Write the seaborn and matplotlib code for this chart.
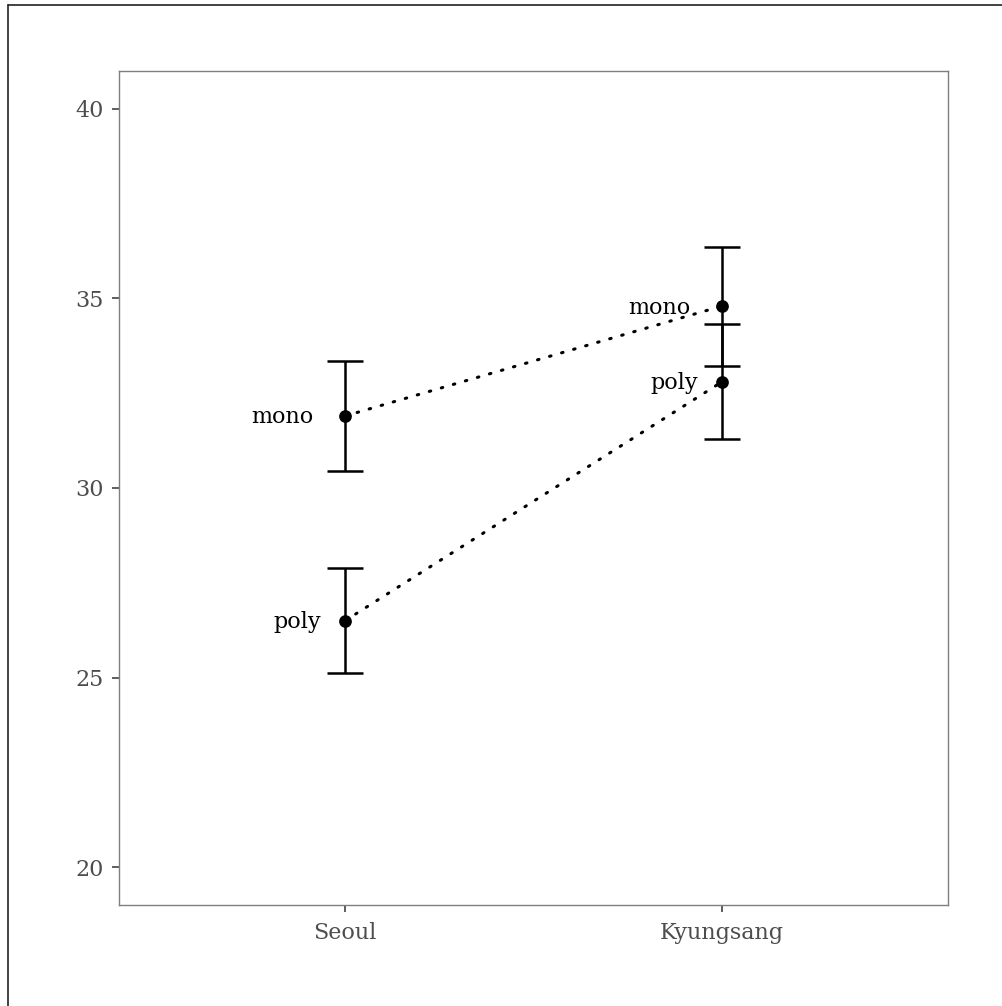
import numpy as np
import pandas as pd
import seaborn as sns
import matplotlib.pyplot as plt
import matplotlib.transforms as mtransforms
from matplotlib.lines import Line2D

# values
regions = ['Seoul', 'Kyungsang']
groups = ['mono', 'poly']
mono_mean = [31.9, 34.8]
mono_err = [1.45, 1.57]
poly_mean = [26.5, 32.8]
poly_err = [1.38, 1.52]
y_ticks = [20, 25, 30, 35, 40]

df = pd.DataFrame({
    'region': regions * 2,
    'group': ['mono'] * 2 + ['poly'] * 2,
    'score': mono_mean + poly_mean,
    'err': mono_err + poly_err,
})

sns.set_theme(style='white')
plt.rcParams['font.family'] = ['DejaVu Serif']

fig = plt.figure(figsize=(10.02, 10.06), dpi=100)
ax = fig.add_axes([119 / 1002, 1 - 905 / 1006, 829 / 1002, 834 / 1006])

sns.pointplot(data=df, x='region', y='score', hue='group', order=regions,
              hue_order=groups, palette=['black', 'black'], errorbar=None,
              markers='o', linestyles=':', dodge=False, legend=False,
              markersize=7.5, linewidth=2.2, ax=ax)
for ln in ax.lines:
    ln.set_dashes((0.5, 3.6))
    ln.set_dash_capstyle('round')

# error bars
for g in groups:
    sub = df[df['group'] == g]
    xpos = [regions.index(r) for r in sub['region']]
    ax.errorbar(xpos, sub['score'], yerr=sub['err'], fmt='none',
                ecolor='black', elinewidth=1.8, capsize=13.3, capthick=1.8,
                zorder=1)

# group labels (right of text at half its width from the point)
texts = []
for _, row in df.iterrows():
    t = ax.text(regions.index(row['region']), row['score'], row['group'],
                ha='center', va='center', fontsize=16, color='black',
                family='DejaVu Serif')
    texts.append(t)
fig.canvas.draw()
for t in texts:
    w = t.get_window_extent().width
    t.set_transform(ax.transData + mtransforms.ScaledTranslation(
        -w / fig.dpi, -1.5 / fig.dpi, fig.dpi_scale_trans))

ax.set_xlim(-0.6, 1.6)
ax.set_ylim(19, 41)
ax.set_yticks(y_ticks)
ax.set_xlabel('')
ax.set_ylabel('')
ax.tick_params(axis='both', which='both', length=5, width=1.1, color='#333333',
               labelsize=16, labelcolor='#4D4D4D', left=True, bottom=True)
ax.tick_params(axis='y', pad=6)
ax.tick_params(axis='x', pad=7)
for s in ax.spines.values():
    s.set_color('#7F7F7F')
    s.set_linewidth(1.0)
ax.grid(False)

# outer frame (top and left edges)
fig.add_artist(Line2D([8 / 1002, 1], [1 - 5 / 1006, 1 - 5 / 1006],
                      transform=fig.transFigure, color='#222222', lw=1.2))
fig.add_artist(Line2D([8 / 1002, 8 / 1002], [0, 1 - 5 / 1006],
                      transform=fig.transFigure, color='#222222', lw=1.2))

plt.savefig('out.png', dpi=100)
